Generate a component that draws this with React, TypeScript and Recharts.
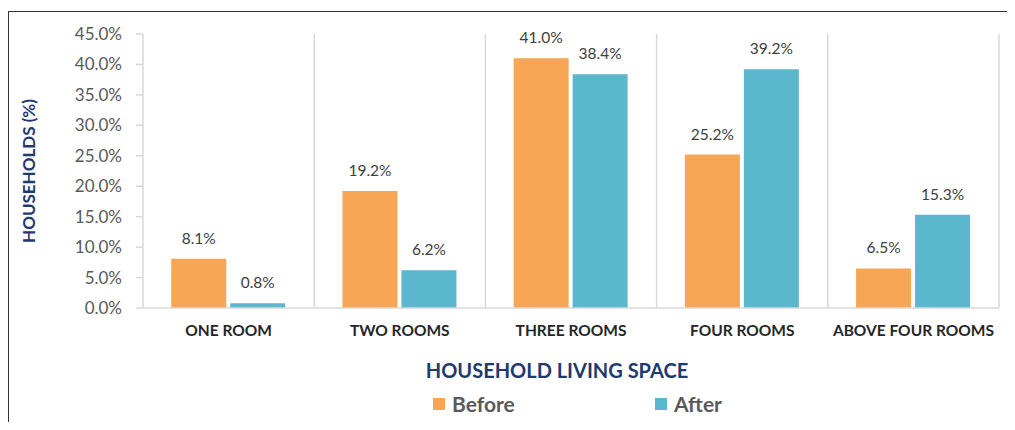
import React from "react";
import { BarChart, Bar, XAxis, YAxis, CartesianGrid, LabelList, Label } from "recharts";

const categories = ["ONE ROOM", "TWO ROOMS", "THREE ROOMS", "FOUR ROOMS", "ABOVE FOUR ROOMS"];
const before = [8.1, 19.2, 41.0, 25.2, 6.5];
const after = [0.8, 6.2, 38.4, 39.2, 15.3];
const yTicks = [0, 5, 10, 15, 20, 25, 30, 35, 40, 45];
const seriesNames = ["Before", "After"];

const data = categories.map((c, i) => ({ name: c, before: before[i], after: after[i] }));

const FONT = "Lato, 'Open Sans', sans-serif";
const ORANGE = "#F7A656";
const TEAL = "#5BB7CE";
const NAVY = "#1F3A6E";

const LegendBox = () => (
  <div style={{ position: "absolute", left: 0, top: 392, width: 1015, height: 26, fontFamily: FONT }}>
    {[ORANGE, TEAL].map((col, i) => (
      <div
        key={i}
        style={{ position: "absolute", left: i === 0 ? 433 : 655, top: 0, display: "flex", alignItems: "center" }}
      >
        <span style={{ width: 12, height: 12, background: col, display: "inline-block", marginRight: 7 }} />
        <span style={{ fontSize: 21, fontWeight: 700, color: "#595959", lineHeight: "24px" }}>{seriesNames[i]}</span>
      </div>
    ))}
  </div>
);

export default function App() {
  return (
    <div style={{ position: "relative", width: 1015, height: 430, margin: -8, overflow: "hidden", background: "#fff" }}>
      <div
        style={{
          position: "absolute",
          left: 8,
          top: 11,
          width: 1030,
          height: 440,
          border: "1.5px solid #333",
          boxSizing: "border-box",
        }}
      />
      <div style={{ position: "absolute", left: 0, top: 0 }}>
        <BarChart
          width={1015}
          height={430}
          data={data}
          margin={{ top: 34, right: 16, left: 83, bottom: 92 }}
          barCategoryGap="16.5%"
          barGap={4}
        >
          <CartesianGrid
            horizontal={false}
            stroke="#d9d9d9"
            strokeWidth={1.5}
            verticalCoordinatesGenerator={({ offset }: any) =>
              categories.map((_, i) => offset.left + ((i + 1) * offset.width) / categories.length)
            }
          />
          <XAxis
            dataKey="name"
            tickLine={false}
            axisLine={{ stroke: "#d9d9d9", strokeWidth: 1.5 }}
            tickSize={0}
            tickMargin={17}
            height={30}
            interval={0}
            tick={{ fontFamily: FONT, fontSize: 15.5, fontWeight: 700, fill: "#262626" }}
          >
            <Label
              value="HOUSEHOLD LIVING SPACE"
              position="bottom"
              offset={26}
              dx={-14}
              style={{ fontFamily: FONT, fontSize: 20, fontWeight: 700, fill: NAVY }}
            />
          </XAxis>
          <YAxis
            width={60}
            domain={[0, 45]}
            ticks={yTicks}
            interval={0}
            tickFormatter={(v: number) => v.toFixed(1) + "%"}
            axisLine={{ stroke: "#d9d9d9", strokeWidth: 1.5 }}
            tickLine={{ stroke: "#d9d9d9", strokeWidth: 1.5 }}
            tickSize={7}
            tickMargin={14}
            tick={{ fontFamily: FONT, fontSize: 17, fill: "#595959" }}
          >
            <Label
              content={({ viewBox }: any) => {
                const cy = viewBox.y + viewBox.height / 2;
                return (
                  <text
                    x={28}
                    y={cy}
                    transform={`rotate(-90, 28, ${cy})`}
                    textAnchor="middle"
                    dominantBaseline="central"
                    style={{ fontFamily: FONT, fontSize: 17, fontWeight: 700, fill: NAVY }}
                  >
                    HOUSEHOLDS (%)
                  </text>
                );
              }}
            />
          </YAxis>
          <Bar dataKey="before" name={seriesNames[0]} fill={ORANGE} isAnimationActive={false}>
            <LabelList
              dataKey="before"
              position="top"
              offset={15}
              formatter={(v: any) => Number(v).toFixed(1) + "%"}
              style={{ fontFamily: FONT, fontSize: 15.5, fill: "#404040" }}
            />
          </Bar>
          <Bar dataKey="after" name={seriesNames[1]} fill={TEAL} isAnimationActive={false}>
            <LabelList
              dataKey="after"
              position="top"
              offset={15}
              formatter={(v: any) => Number(v).toFixed(1) + "%"}
              style={{ fontFamily: FONT, fontSize: 15.5, fill: "#404040" }}
            />
          </Bar>
        </BarChart>
      </div>
      <LegendBox />
    </div>
  );
}
